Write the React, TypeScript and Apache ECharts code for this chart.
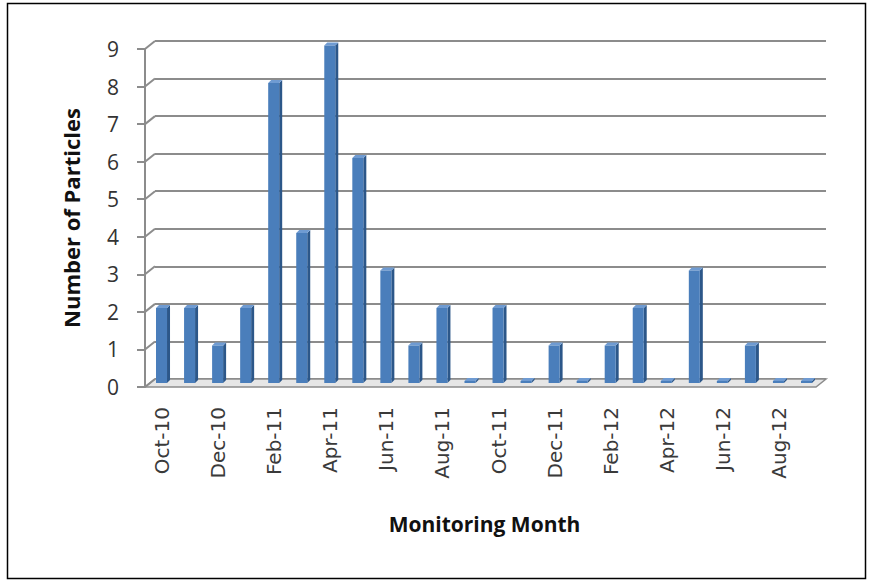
import React, { useEffect, useRef } from "react";
import * as echarts from "echarts";

const months = [
  "Oct-10", "Nov-10", "Dec-10", "Jan-11", "Feb-11", "Mar-11", "Apr-11", "May-11",
  "Jun-11", "Jul-11", "Aug-11", "Sep-11", "Oct-11", "Nov-11", "Dec-11", "Jan-12",
  "Feb-12", "Mar-12", "Apr-12", "May-12", "Jun-12", "Jul-12", "Aug-12", "Sep-12",
];
const particles = [2, 2, 1, 2, 8, 4, 9, 6, 3, 1, 2, 0, 2, 0, 1, 0, 1, 2, 0, 3, 0, 1, 0, 0];
const yTicks = [0, 1, 2, 3, 4, 5, 6, 7, 8, 9];

const LABEL_FONT = "'Open Sans', sans-serif";
const XLABEL_FONT = "'DejaVu Sans', sans-serif";
const GRID_GRAY = "#8c8c8c";
const DX = 10;
const DY = -8;

export default function App() {
  const ref = useRef<HTMLDivElement>(null);
  useEffect(() => {
    const chart = echarts.init(ref.current!, null, { renderer: "svg" });
    const barData = particles.map((v, i) => [i, v]);
    chart.setOption({
      animation: false,
      backgroundColor: "#ffffff",
      graphic: [
        {
          type: "rect",
          shape: { x: 7.5, y: 3.5, width: 858, height: 575 },
          style: { fill: "none", stroke: "#000", lineWidth: 1.5 },
          z: 100,
        },
      ],
      grid: [
        { left: 148, right: 51, top: 45.5, bottom: 200 },
        { left: 155, right: 46, top: 41, bottom: 204 },
        { left: 145, right: 56, top: 49, bottom: 196 },
      ],
      xAxis: [
        {
          gridIndex: 0,
          type: "category",
          data: months,
          boundaryGap: true,
          name: "Monitoring Month",
          nameLocation: "middle",
          nameGap: 130,
          nameTextStyle: { fontFamily: LABEL_FONT, fontWeight: "bold", fontSize: 21, color: "#111" },
          axisLine: { show: false },
          axisTick: { show: false },
          axisLabel: {
            interval: 1,
            rotate: 90,
            fontFamily: XLABEL_FONT,
            fontSize: 20,
            color: "#3a3a3a",
            margin: 24,
          },
          splitLine: { show: false },
        },
        { gridIndex: 1, type: "category", data: months, show: false },
        { gridIndex: 2, type: "value", min: 0, max: 1, show: false },
      ],
      yAxis: [
        {
          gridIndex: 0,
          type: "value",
          min: 0,
          max: 9,
          interval: 1,
          show: false,
          splitLine: { show: false },
        },
        {
          gridIndex: 1,
          type: "value",
          min: 0,
          max: 9,
          interval: 1,
          axisLine: { show: false },
          axisTick: { show: false },
          axisLabel: { show: false },
          splitLine: { show: true, lineStyle: { color: GRID_GRAY, width: 2 } },
        },
        {
          gridIndex: 2,
          type: "value",
          min: 0,
          max: 9,
          interval: 1,
          name: "Number of Particles",
          nameLocation: "middle",
          nameGap: 63,
          nameTextStyle: { fontFamily: LABEL_FONT, fontWeight: "bold", fontSize: 22, color: "#111" },
          axisLine: { show: true, lineStyle: { color: GRID_GRAY, width: 2 } },
          axisTick: { show: true, length: 8, lineStyle: { color: GRID_GRAY, width: 2 } },
          axisLabel: {
            fontFamily: LABEL_FONT,
            fontSize: 21,
            color: "#333",
            margin: 26,
            formatter: (v: number) => (yTicks.includes(v) ? String(v) : ""),
          },
          splitLine: { show: false },
        },
      ],
      series: [
        {
          type: "custom",
          xAxisIndex: 2,
          yAxisIndex: 2,
          data: [[0, 0]],
          z: 1,
          silent: true,
          renderItem: (params: any, api: any) => {
            const fl = api.coord([0, 0]);
            const fr = api.coord([1, 0]);
            return {
              type: "polygon",
              shape: {
                points: [
                  [fl[0], fl[1]],
                  [fr[0], fr[1]],
                  [fr[0] + DX, fr[1] + DY],
                  [fl[0] + DX, fl[1] + DY],
                ],
              },
              style: { fill: "#e6e6e6", stroke: GRID_GRAY, lineWidth: 1.5 },
            };
          },
        },
        {
          type: "custom",
          xAxisIndex: 2,
          yAxisIndex: 2,
          data: yTicks.map((t) => [0, t]),
          z: 2,
          silent: true,
          renderItem: (params: any, api: any) => {
            const p = api.coord([0, api.value(1)]);
            return {
              type: "line",
              shape: { x1: p[0], y1: p[1], x2: p[0] + DX, y2: p[1] + DY },
              style: { stroke: GRID_GRAY, lineWidth: 2 },
            };
          },
        },
        {
          type: "custom",
          xAxisIndex: 0,
          yAxisIndex: 0,
          data: barData,
          encode: { x: 0, y: 1 },
          z: 5,
          renderItem: (params: any, api: any) => {
            const idx = api.value(0);
            const v = api.value(1);
            const base = api.coord([idx, 0]);
            const top = api.coord([idx, v]);
            const w = 11;
            const d = 3;
            const x = base[0] - 6;
            const yTop = v === 0 ? base[1] - 2 : top[1];
            const h = base[1] - yTop;
            return {
              type: "group",
              children: [
                {
                  type: "polygon",
                  shape: {
                    points: [
                      [x + w, yTop],
                      [x + w + d, yTop - d],
                      [x + w + d, base[1] - d],
                      [x + w, base[1]],
                    ],
                  },
                  style: { fill: "#2c5789" },
                },
                {
                  type: "polygon",
                  shape: {
                    points: [
                      [x, yTop],
                      [x + d, yTop - d],
                      [x + w + d, yTop - d],
                      [x + w, yTop],
                    ],
                  },
                  style: { fill: "#6f9bd2" },
                },
                {
                  type: "rect",
                  shape: { x, y: yTop, width: w, height: h },
                  style: { fill: "#4a7ebb" },
                },
              ],
            };
          },
        },
      ],
    });
    return () => chart.dispose();
  }, []);
  return (
    <div
      ref={ref}
      style={{ position: "fixed", left: 0, top: 0, width: 872, height: 583 }}
    />
  );
}
